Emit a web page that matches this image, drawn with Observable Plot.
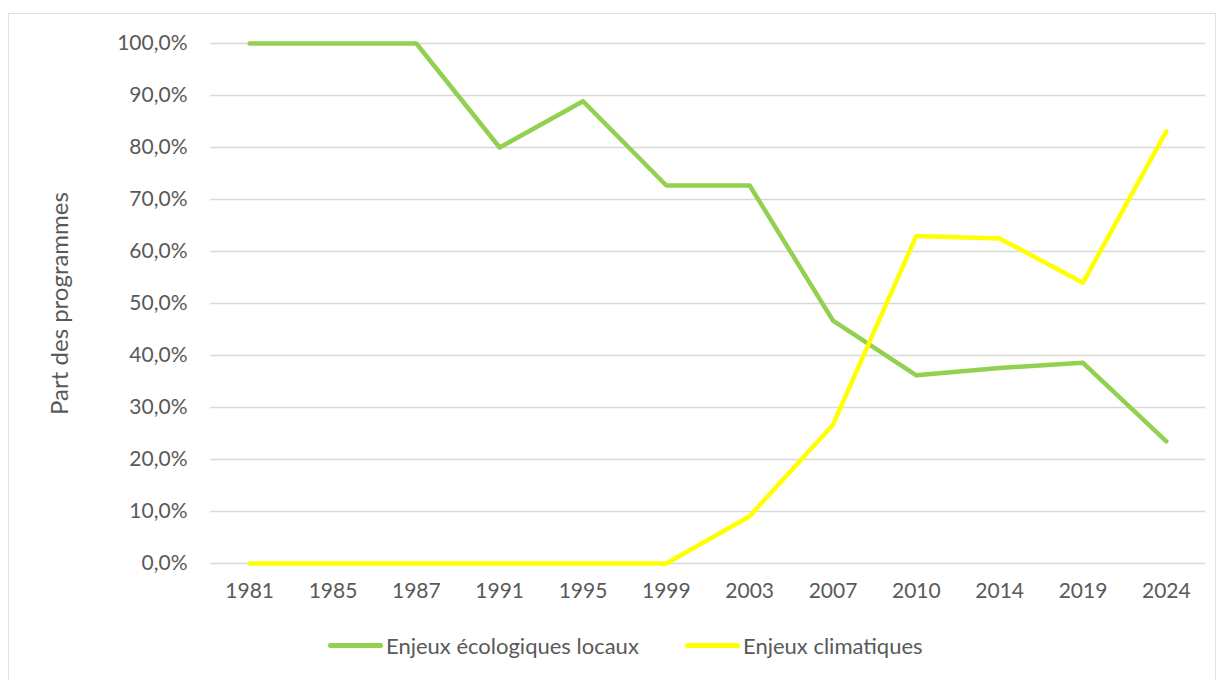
<!DOCTYPE html>
<html>
<head>
<meta charset="utf-8">
<script src="https://cdn.jsdelivr.net/npm/d3@7"></script>
<script src="https://cdn.jsdelivr.net/npm/@observablehq/plot@0.6"></script>
<style>
  html, body { margin: 0; padding: 0; background: #fff; }
  #wrap { position: relative; width: 1225px; height: 680px; overflow: hidden; font-family: Lato, "Open Sans", sans-serif; }
  #frame { position: absolute; left: 8px; top: 13px; width: 1208px; height: 700px; border: 1px solid #e0e0e0; box-sizing: border-box; }
  #chart { position: absolute; left: 0; top: 0; }
  #legend { position: absolute; top: 632px; left: 0; width: 1225px; height: 30px; font-size: 22px; color: #595959; }
  .item { position: absolute; display: flex; align-items: center; }
  .sw { width: 55px; height: 5px; border-radius: 3px; margin-right: 3px; }
</style>
</head>
<body>
<div id="wrap">
  <div id="frame"></div>
  <div id="chart"></div>
  <div id="legend"></div>
</div>
<script>
const years = ["1981","1985","1987","1991","1995","1999","2003","2007","2010","2014","2019","2024"];
const seriesNames = ["Enjeux écologiques locaux", "Enjeux climatiques"];
const seriesColors = ["#92D050", "#FFFF00"];
const ecologiquesLocaux = [1.0, 1.0, 1.0, 0.80, 0.889, 0.727, 0.727, 0.467, 0.362, 0.376, 0.386, 0.235];
const climatiques = [0, 0, 0, 0, 0, 0, 0.091, 0.267, 0.630, 0.625, 0.540, 0.831];
const yTicks = [0, 0.1, 0.2, 0.3, 0.4, 0.5, 0.6, 0.7, 0.8, 0.9, 1.0];
const yLabel = "Part des programmes";

const data = [];
years.forEach((yr, i) => {
  data.push({year: yr, value: ecologiquesLocaux[i], series: seriesNames[0]});
  data.push({year: yr, value: climatiques[i], series: seriesNames[1]});
});

const fmt = d => (d * 100).toFixed(1).replace(".", ",") + "%";

const chart = Plot.plot({
  width: 1225,
  height: 615,
  marginLeft: 210,
  marginRight: 20,
  marginTop: 43,
  marginBottom: 52,
  style: {fontFamily: "Lato, 'Open Sans', sans-serif", fontSize: "21px", color: "#595959", background: "transparent"},
  x: {type: "point", domain: years, padding: 0.47, round: false},
  y: {domain: [0, 1]},
  color: {domain: seriesNames, range: seriesColors},
  marks: [
    Plot.gridY(yTicks, {stroke: "#d9d9d9", strokeOpacity: 1, strokeWidth: 1.5}),
    Plot.axisY(yTicks, {tickSize: 0, tickPadding: 23, tickFormat: fmt, fontSize: 21, fill: "#595959",
      label: yLabel, labelAnchor: "center", labelArrow: "none", labelOffset: 160}),
    Plot.axisX({tickSize: 0, tickPadding: 20, fontSize: 21, fill: "#595959", label: null}),
    Plot.lineY(data, {x: "year", y: "value", z: "series", stroke: "series", strokeWidth: 4.5,
      strokeLinecap: "round", strokeLinejoin: "round"})
  ]
});
document.getElementById("chart").appendChild(chart);
chart.querySelectorAll("g[aria-label='y-axis label'] text").forEach(t => t.setAttribute("font-size", "24"));

const legend = document.getElementById("legend");
const lefts = [328, 685];
seriesNames.forEach((n, i) => {
  const it = document.createElement("div");
  it.className = "item";
  it.style.left = lefts[i] + "px";
  const sw = document.createElement("div");
  sw.className = "sw";
  sw.style.background = seriesColors[i];
  const tx = document.createElement("span");
  tx.textContent = n;
  it.appendChild(sw); it.appendChild(tx);
  legend.appendChild(it);
});
</script>
</body>
</html>
